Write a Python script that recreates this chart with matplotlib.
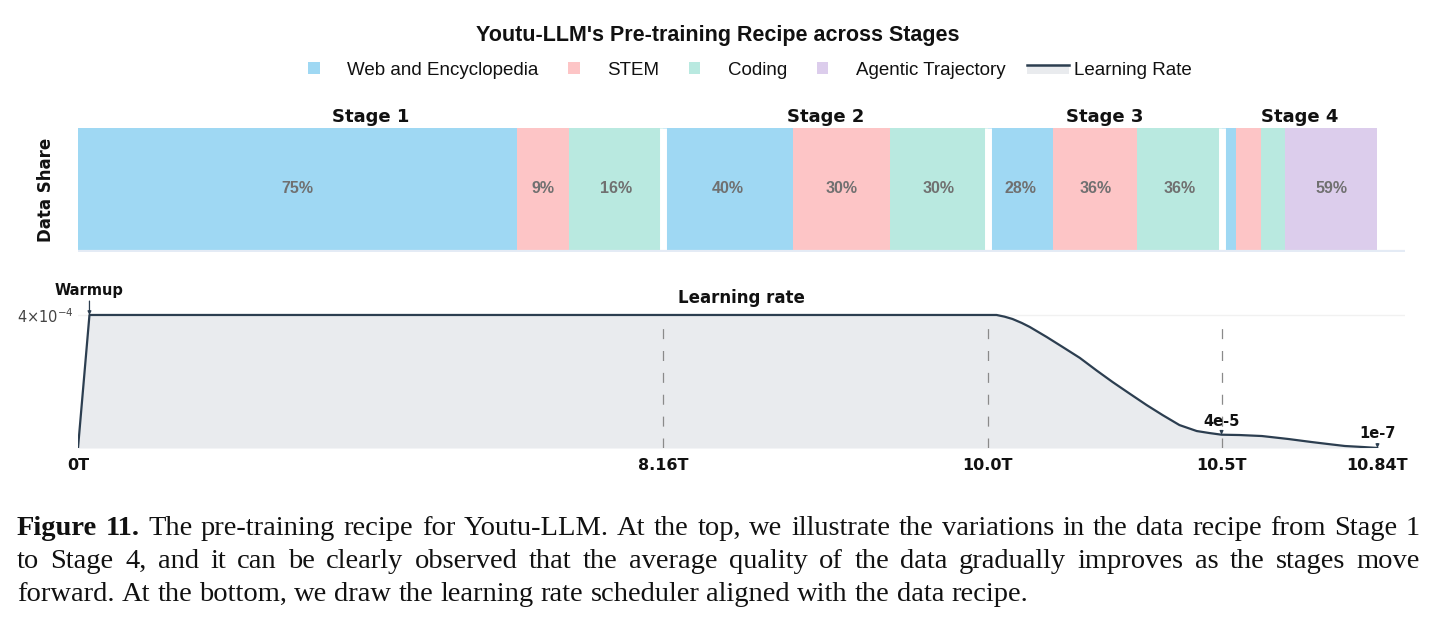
import matplotlib
matplotlib.use("Agg")
import numpy as np
import matplotlib.pyplot as plt
from matplotlib.patches import Rectangle, Patch
from matplotlib.lines import Line2D
from matplotlib.legend_handler import HandlerBase

# ---------------- data ----------------
stage_names = ["Stage 1", "Stage 2", "Stage 3", "Stage 4"]
stage_bounds_T = [0.0, 8.16, 10.0, 10.5, 10.84]          # tokens (T)
stage_display = [0.0, 4.5, 7.0, 8.8, 10.0]               # visual width allotted per stage
tick_labels = ["0T", "8.16T", "10.0T", "10.5T", "10.84T"]

categories = ["Web and Encyclopedia", "STEM", "Coding", "Agentic Trajectory"]
web_share = [75, 40, 28, 9]
stem_share = [9, 30, 36, 16]
coding_share = [16, 30, 36, 16]
agentic_share = [0, 0, 0, 59]

lr_tokens = [0.0, 0.16, 8.16, 10.0, 10.019, 10.036, 10.053, 10.073, 10.090, 10.126,
             10.160, 10.197, 10.233, 10.267, 10.303, 10.340, 10.374, 10.410, 10.447,
             10.474, 10.5, 10.539, 10.588, 10.646, 10.696, 10.732, 10.769, 10.808, 10.84]
lr_values = [0.0, 4e-4, 4e-4, 4e-4, 4.0e-4, 3.95e-4, 3.88e-4, 3.76e-4, 3.64e-4, 3.34e-4,
             3.04e-4, 2.71e-4, 2.33e-4, 1.985e-4, 1.64e-4, 1.29e-4, 0.99e-4, 0.69e-4, 0.51e-4,
             0.45e-4, 4e-5, 3.9e-5, 3.6e-5, 2.7e-5, 1.8e-5, 1.2e-5, 0.6e-5, 0.3e-5, 1e-7]
peak_lr = 4e-4
warmup_T = 0.16
mid_idx = lr_tokens.index(10.5)

caption_lines = [
    [("Figure", True), ("11.", True)] + [(w, False) for w in
        "The pre-training recipe for Youtu-LLM. At the top, we illustrate the variations in the data recipe from Stage 1".split()],
    [(w, False) for w in
        "to Stage 4, and it can be clearly observed that the average quality of the data gradually improves as the stages move".split()],
    [(w, False) for w in
        "forward. At the bottom, we draw the learning rate scheduler aligned with the data recipe.".split()],
]

# ---------------- style ----------------
colors = ["#9fd8f3", "#fdc5c6", "#b9e9e0", "#dccdec"]
lr_color = "#2c3e50"
fill_color = "#e9ebee"
W, H = 1436, 623

plt.rcParams["mathtext.fontset"] = "dejavusans"
fig = plt.figure(figsize=(W / 100, H / 100), dpi=100)

# piecewise-linear token scale (stages get their own visual widths)
bT = np.array(stage_bounds_T)
bD = np.array(stage_display)


def fwd(x):
    x = np.asarray(x, dtype=float)
    y = np.interp(x, bT, bD)
    s_hi = (bD[-1] - bD[-2]) / (bT[-1] - bT[-2])
    s_lo = (bD[1] - bD[0]) / (bT[1] - bT[0])
    y = np.where(x > bT[-1], bD[-1] + (x - bT[-1]) * s_hi, y)
    y = np.where(x < bT[0], bD[0] + (x - bT[0]) * s_lo, y)
    return y


def inv(y):
    y = np.asarray(y, dtype=float)
    x = np.interp(y, bD, bT)
    s_hi = (bT[-1] - bT[-2]) / (bD[-1] - bD[-2])
    s_lo = (bT[1] - bT[0]) / (bD[1] - bD[0])
    x = np.where(y > bD[-1], bT[-1] + (y - bD[-1]) * s_hi, x)
    x = np.where(y < bD[0], bT[0] + (y - bD[0]) * s_lo, x)
    return x


x_left, x_right = 78, 1405
xlim = (0.0, 10.9)

# ---------------- top: data share ----------------
top_px, bot_px = 128, 252.4
ax1 = fig.add_axes([x_left / W, 1 - bot_px / H, (x_right - x_left) / W, (bot_px - top_px) / H])
ax1.set_xscale("function", functions=(fwd, inv))
ax1.set_xlim(*xlim)
ax1.set_ylim(-0.02, 1)
shares = [web_share, stem_share, coding_share, agentic_share]
for s in range(len(stage_names)):
    t0, t1 = stage_bounds_T[s], stage_bounds_T[s + 1]
    left = t0
    for c in range(len(categories)):
        v = shares[c][s]
        if v <= 0:
            continue
        w = (t1 - t0) * v / 100.0
        ax1.barh(0.5, w, left=left, height=1.0, color=colors[c], edgecolor="none", zorder=1)
        px_w = (fwd(left + w) - fwd(left)) * 130
        if px_w > 35:
            ax1.text(left + w / 2, 0.5, f"{v}%", ha="center", va="center",
                     fontsize=11.5, fontweight="bold", color="#707070",
                     family="Liberation Sans", zorder=4)
        left += w
    ax1.annotate(stage_names[s], xy=((t0 + t1) / 2, 1.0), xycoords=("data", "axes fraction"),
                 xytext=(0, 8), textcoords="offset points", ha="center", va="center",
                 fontsize=13, fontweight="bold", family="DejaVu Sans", color="#111")
# white separators between stages
ax1.vlines(stage_bounds_T[1:-1], 0, 1, colors="white", linewidth=5, zorder=2)
ax1.axhline(-0.01, color="#e4ebf5", linewidth=1.6, zorder=3)
for sp in ax1.spines.values():
    sp.set_visible(False)
ax1.set_xticks([])
ax1.set_yticks([])
fig.text(46 / W, 1 - 190 / H, "Data Share", rotation=90, ha="center", va="center",
         fontsize=12, fontweight="bold", family="DejaVu Sans", color="#111")

# ---------------- bottom: learning rate ----------------
top2, bot2 = 305, 448
ax2 = fig.add_axes([x_left / W, 1 - bot2 / H, (x_right - x_left) / W, (bot2 - top2) / H])
ax2.set_xscale("function", functions=(fwd, inv))
ax2.set_xlim(*xlim)
ax2.set_ylim(0, 4.3e-4)
ax2.fill_between(lr_tokens, lr_values, 0, color=fill_color, linewidth=0, zorder=1)
ax2.plot(lr_tokens, lr_values, color=lr_color, linewidth=1.6, zorder=3,
         solid_joinstyle="round", solid_capstyle="round")
ax2.vlines(stage_bounds_T[1:-1], 0, 0.9 * peak_lr, colors="#8a8a8a", linewidth=0.9,
           linestyles=(0, (8, 9.5)), zorder=2)
ax2.set_xticks(stage_bounds_T)
ax2.set_xticklabels(tick_labels, fontsize=11.5, fontweight="bold", family="DejaVu Sans", color="#111")
ax2.set_yticks([peak_lr])
ax2.set_yticklabels([r"$4{\times}10^{-4}$"], fontsize=10.5, color="#444")
ax2.tick_params(axis="x", length=0, pad=7)
ax2.tick_params(axis="y", length=0, pad=3)
ax2.grid(axis="y", color="#f1f1f1", linewidth=1.0, zorder=0)
ax2.set_axisbelow(True)
for sp in ax2.spines.values():
    sp.set_visible(False)
ax2.annotate("Learning rate", xy=(0.5, 1.0), xycoords="axes fraction", xytext=(0, 5),
             textcoords="offset points", ha="center", va="center", fontsize=12,
             fontweight="bold", family="DejaVu Sans", color="#111")

arrow = dict(arrowstyle="-|>", color=lr_color, lw=0.9, shrinkA=0, shrinkB=0, mutation_scale=5)
ax2.annotate("Warmup", xy=(warmup_T, peak_lr), xytext=(0, 12), textcoords="offset points",
             ha="center", va="bottom", fontsize=10.5, fontweight="bold", family="DejaVu Sans",
             color="#111", arrowprops=arrow, zorder=5)
ax2.annotate("4e-5", xy=(lr_tokens[mid_idx], lr_values[mid_idx]), xytext=(0, 4), textcoords="offset points",
             ha="center", va="bottom", fontsize=10.5, fontweight="bold", family="DejaVu Sans",
             color="#111", arrowprops=arrow, zorder=5)
ax2.annotate("1e-7", xy=(lr_tokens[-1], lr_values[-1]), xytext=(0, 5), textcoords="offset points",
             ha="center", va="bottom", fontsize=10.5, fontweight="bold", family="DejaVu Sans",
             color="#111", arrowprops=arrow, zorder=5)

# ---------------- title & legend ----------------
fig.text(0.5, 1 - 36 / H, "Youtu-LLM's Pre-training Recipe across Stages", ha="center", va="center",
         fontsize=15.5, fontweight="bold", family="Liberation Sans", color="#111")


class SquareHandler(HandlerBase):
    def create_artists(self, legend, orig_handle, xdescent, ydescent, width, height, fontsize, trans):
        s = 0.6 * fontsize
        r = Rectangle((-xdescent + 0.43 * fontsize, -ydescent + (height - s) / 2), s, s,
                      facecolor=orig_handle.get_facecolor(), edgecolor="none", transform=trans)
        return [r]


class LineFillHandler(HandlerBase):
    def create_artists(self, legend, orig_handle, xdescent, ydescent, width, height, fontsize, trans):
        yl = -ydescent + height / 2 + 0.15 * fontsize
        r = Rectangle((-xdescent, yl - 0.45 * fontsize), width, 0.45 * fontsize,
                      facecolor=fill_color, edgecolor="none", transform=trans)
        ln = Line2D([-xdescent, -xdescent + width], [yl, yl], color=lr_color, lw=1.8, transform=trans)
        return [r, ln]


handles = [Patch(facecolor=c) for c in colors] + [Line2D([], [], color=lr_color)]
labels = categories + ["Learning Rate"]
hmap = {h: SquareHandler() for h in handles[:4]}
hmap[handles[4]] = LineFillHandler()
fig.legend(handles, labels, handler_map=hmap, loc="center", bbox_to_anchor=(746 / W, 1 - 70 / H),
           ncol=5, frameon=False, prop={"family": "Liberation Sans", "size": 13.5},
           handlelength=2.24, handletextpad=0.27, columnspacing=1.15, borderpad=0, labelcolor="#111")

# ---------------- caption (justified) ----------------
renderer = fig.canvas.get_renderer()
cap_fs = 20.5
cap_x0, cap_x1 = 17, 1420
cap_baselines = [535, 568, 601]
for li, (words, ybase) in enumerate(zip(caption_lines, cap_baselines)):
    texts, widths = [], []
    for w, bold in words:
        t = fig.text(0, 1 - ybase / H, w, fontsize=cap_fs, family="Liberation Serif",
                     fontweight="bold" if bold else "normal", va="baseline", ha="left", color="#111")
        texts.append(t)
        widths.append(t.get_window_extent(renderer).width)
    if li < len(caption_lines) - 1:
        gap = (cap_x1 - cap_x0 - sum(widths)) / (len(words) - 1)
    else:
        gap = 0.25 * cap_fs * 100 / 72
    x = cap_x0
    for t, w in zip(texts, widths):
        t.set_x(x / W)
        x += w + gap

fig.savefig("out.png", dpi=100)
